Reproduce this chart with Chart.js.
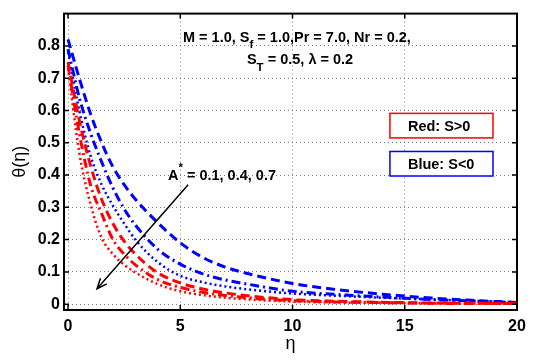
<!DOCTYPE html>
<html>
<head>
<meta charset="utf-8">
<script src="https://cdn.jsdelivr.net/npm/chart.js@4.4.1/dist/chart.umd.min.js"></script>
<style>
  body { margin: 0; background: #fff; }
</style>
</head>
<body>
<canvas id="myChart" width="535" height="360"></canvas>
<script>
// eta grid and theta(eta) values
var eta = [0, 0.5, 1, 1.5, 2, 2.5, 3, 4, 5, 6, 7, 8, 10, 12, 14, 16, 18, 20];
// S<0 (blue): A* = 0.1, 0.4, 0.7
var blueA1 = [0.82, 0.70, 0.59, 0.50, 0.425, 0.37, 0.325, 0.252, 0.19, 0.145, 0.115, 0.095, 0.064, 0.045, 0.031, 0.020, 0.012, 0.005];
var blueA4 = [0.79, 0.64, 0.53, 0.44, 0.36, 0.295, 0.245, 0.17, 0.124, 0.094, 0.075, 0.062, 0.040, 0.030, 0.022, 0.015, 0.010, 0.005];
var blueA7 = [0.78, 0.60, 0.46, 0.37, 0.305, 0.25, 0.20, 0.13, 0.088, 0.068, 0.055, 0.046, 0.033, 0.026, 0.020, 0.015, 0.010, 0.005];
// S>0 (red): A* = 0.1, 0.4, 0.7
var redA1 = [0.75, 0.57, 0.43, 0.324, 0.25, 0.195, 0.155, 0.097, 0.066, 0.047, 0.035, 0.026, 0.014, 0.009, 0.006, 0.004, 0.003, 0.002];
var redA4 = [0.74, 0.53, 0.37, 0.28, 0.20, 0.155, 0.122, 0.076, 0.052, 0.037, 0.027, 0.020, 0.011, 0.007, 0.005, 0.003, 0.002, 0.002];
var redA7 = [0.73, 0.47, 0.31, 0.205, 0.155, 0.122, 0.098, 0.062, 0.040, 0.028, 0.020, 0.015, 0.008, 0.005, 0.004, 0.003, 0.002, 0.001];

var xTicks = [0, 5, 10, 15, 20];
var yTicks = [0, 0.1, 0.2, 0.3, 0.4, 0.5, 0.6, 0.7, 0.8];

var FONT = '"Liberation Sans", Arial, sans-serif';
var DASH = [9, 5];
var DASHDOT = [9, 4, 2, 4];
var DOT = [2, 3];

function pts(arr) {
    return eta.map(function (e, i) { return { x: e, y: arr[i] }; });
}

function line(arr, color, dash, width) {
    return {
        data: pts(arr),
        borderColor: color,
        borderWidth: width,
        borderDash: dash,
        pointRadius: 0,
        fill: false,
        cubicInterpolationMode: 'monotone'
    };
}

// draw text made of pieces with sub/superscripts
function richText(ctx, x, y, parts, size) {
    var cx = x;
    parts.forEach(function (p) {
        var s = p.sub || p.sup ? size - 3 : size;
        ctx.font = 'bold ' + s + 'px ' + FONT;
        var dy = p.sub ? 7 : (p.sup ? -8 : 0);
        ctx.fillText(p.t, cx, y + dy);
        cx += ctx.measureText(p.t).width;
    });
}

var decorations = {
    id: 'decorations',
    afterDraw: function (chart) {
        var ctx = chart.ctx, a = chart.chartArea;
        var xs = chart.scales.x, ys = chart.scales.y;
        ctx.save();
        // box
        ctx.strokeStyle = '#000';
        ctx.lineWidth = 2;
        ctx.strokeRect(a.left, a.top, a.right - a.left, a.bottom - a.top);
        // inward ticks
        ctx.lineWidth = 1.5;
        ctx.beginPath();
        xTicks.forEach(function (t) {
            var px = xs.getPixelForValue(t);
            ctx.moveTo(px, a.bottom); ctx.lineTo(px, a.bottom - 5);
            ctx.moveTo(px, a.top); ctx.lineTo(px, a.top + 5);
        });
        yTicks.forEach(function (t) {
            var py = ys.getPixelForValue(t);
            ctx.moveTo(a.left, py); ctx.lineTo(a.left + 5, py);
            ctx.moveTo(a.right, py); ctx.lineTo(a.right - 5, py);
        });
        ctx.stroke();

        // parameter text
        ctx.fillStyle = '#000';
        ctx.textBaseline = 'middle';
        richText(ctx, xs.getPixelForValue(5.12), ys.getPixelForValue(0.824), [
            { t: 'M = 1.0, S' }, { t: 'f', sub: true }, { t: ' = 1.0,Pr = 7.0, Nr = 0.2,' }
        ], 14.5);
        richText(ctx, xs.getPixelForValue(7.97), ys.getPixelForValue(0.755), [
            { t: 'S' }, { t: 'T', sub: true }, { t: ' = 0.5, \u03bb = 0.2' }
        ], 14.5);
        richText(ctx, xs.getPixelForValue(4.45), ys.getPixelForValue(0.397), [
            { t: 'A' }, { t: '*', sup: true }, { t: ' = 0.1, 0.4, 0.7' }
        ], 14.5);

        // legend boxes
        var boxes = [
            { txt: 'Red: S>0', color: '#ff0000', y0: 0.591, y1: 0.515 },
            { txt: 'Blue: S<0', color: '#0000ff', y0: 0.473, y1: 0.397 }
        ];
        boxes.forEach(function (b) {
            var l = xs.getPixelForValue(14.34), r = xs.getPixelForValue(18.93);
            var t = ys.getPixelForValue(b.y0), bt = ys.getPixelForValue(b.y1);
            ctx.fillStyle = '#fff';
            ctx.fillRect(l, t, r - l, bt - t);
            ctx.strokeStyle = b.color;
            ctx.lineWidth = 1.5;
            ctx.strokeRect(l, t, r - l, bt - t);
            ctx.fillStyle = '#000';
            ctx.font = 'bold 14.5px ' + FONT;
            ctx.fillText(b.txt, l + 18, (t + bt) / 2 + 1);
        });

        // arrow
        var x0 = xs.getPixelForValue(5.35), y0 = ys.getPixelForValue(0.37);
        var x1 = xs.getPixelForValue(1.29), y1 = ys.getPixelForValue(0.048);
        var ang = Math.atan2(y1 - y0, x1 - x0);
        ctx.strokeStyle = '#000';
        ctx.lineWidth = 1.5;
        ctx.beginPath();
        ctx.moveTo(x0, y0); ctx.lineTo(x1, y1);
        ctx.moveTo(x1 - 11 * Math.cos(ang - 0.4), y1 - 11 * Math.sin(ang - 0.4));
        ctx.lineTo(x1, y1);
        ctx.lineTo(x1 - 11 * Math.cos(ang + 0.4), y1 - 11 * Math.sin(ang + 0.4));
        ctx.stroke();
        ctx.restore();
    }
};

var ctx = document.getElementById('myChart').getContext('2d');
var chart = new Chart(ctx, {
    type: 'line',
    data: {
        datasets: [
            line(redA1, '#ff0000', DASH, 3),
            line(redA4, '#ff0000', DASHDOT, 3),
            line(redA7, '#ff0000', DOT, 2.5),
            line(blueA1, '#0000ff', DASH, 3),
            line(blueA4, '#0000ff', DASHDOT, 3),
            line(blueA7, '#0000ff', DOT, 2.5)
        ]
    },
    options: {
        responsive: false,
        animation: false,
        layout: { padding: { top: 7, right: 18 } },
        plugins: { legend: { display: false }, tooltip: { enabled: false } },
        scales: {
            x: {
                type: 'linear',
                min: -0.18,
                max: 20,
                afterBuildTicks: function (s) { s.ticks = xTicks.map(function (v) { return { value: v }; }); },
                afterFit: function (s) { s.height = 50; },
                grid: { color: '#777', lineWidth: 1, drawTicks: false },
                border: { display: false, dash: [1, 3] },
                ticks: { color: '#000', padding: 7, maxRotation: 0, font: { family: FONT, size: 16, weight: 'bold' } },
                title: { display: true, text: '\u03b7', color: '#000', padding: { top: 0, bottom: 5 }, font: { family: FONT, size: 18 } }
            },
            y: {
                min: -0.018,
                max: 0.9,
                afterBuildTicks: function (s) { s.ticks = yTicks.map(function (v) { return { value: v }; }); },
                afterFit: function (s) { s.width = 64; },
                grid: { color: '#777', lineWidth: 1, drawTicks: false },
                border: { display: false, dash: [1, 3] },
                ticks: { color: '#000', padding: 4, font: { family: FONT, size: 16, weight: 'bold' },
                    callback: function (v) { return v === 0 ? '0' : v.toFixed(1); } },
                title: { display: true, text: '\u03b8(\u03b7)', color: '#000', padding: { top: 9, bottom: 0 }, font: { family: FONT, size: 18 } }
            }
        }
    },
    plugins: [decorations]
});
</script>
</body>
</html>
